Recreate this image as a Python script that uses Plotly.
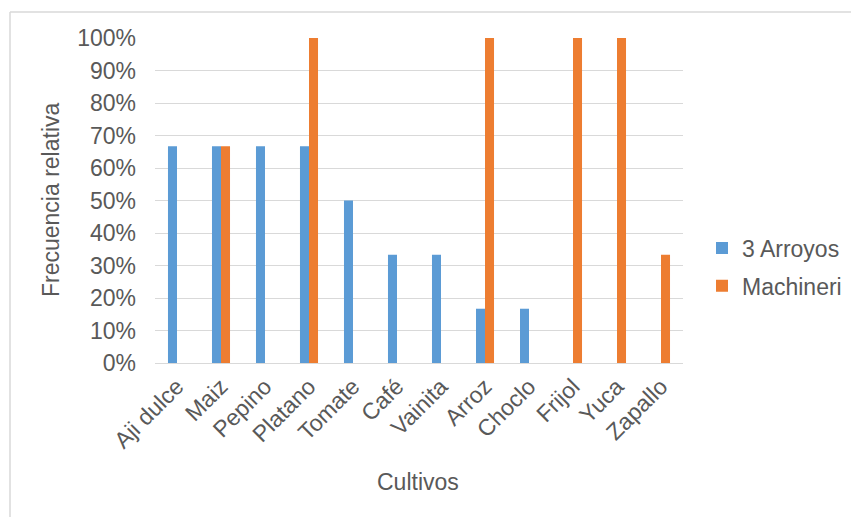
import plotly.graph_objects as go

cultivos = ["Aji dulce", "Maiz", "Pepino", "Platano", "Tomate", "Café", "Vainita",
            "Arroz", "Choclo", "Frijol", "Yuca", "Zapallo"]
tres_arroyos = [0.667, 0.667, 0.667, 0.667, 0.5, 0.333, 0.333, 0.167, 0.167, 0, 0, 0]
machineri = [0, 0.667, 0, 1.0, 0, 0, 0, 1.0, 0, 1.0, 1.0, 0.333]

W, H = 851, 517
L, R, T, B = 155, 168, 38, 154
PW, PH = W - L - R, H - T - B
FS = 23
GRAY = "#595959"


def px_x(x):
    return (x - L) / PW


def px_y(y):
    return (H - B - y) / PH


fig = go.Figure()
fig.add_trace(go.Bar(x=cultivos, y=tres_arroyos, name="3 Arroyos", legendgroup="a",
                     marker=dict(color="#5B9BD5", line=dict(width=0))))
fig.add_trace(go.Bar(x=cultivos, y=machineri, name="Machineri", legendgroup="b",
                     marker=dict(color="#ED7D31", line=dict(width=0))))

font_fam = "Liberation Sans, Arial, sans-serif"
fig.update_layout(
    width=W, height=H,
    margin=dict(l=L, r=R, t=T, b=B, pad=0, autoexpand=False),
    paper_bgcolor="white", plot_bgcolor="white",
    barmode="group", bargap=0.59, bargroupgap=0,
    font=dict(family=font_fam, size=FS, color=GRAY),
    showlegend=True,
    legend=dict(xref="container", yref="container",
                x=702 / W, xanchor="left", y=(H - 267) / H, yanchor="middle",
                font=dict(size=FS, color=GRAY), itemwidth=30,
                tracegroupgap=5, bgcolor="rgba(0,0,0,0)"),
    xaxis=dict(tickangle=-45, showgrid=False, showline=True, linecolor="#D9D9D9",
               linewidth=1, ticks="", tickfont=dict(size=FS, color=GRAY)),
    yaxis=dict(range=[0, 1.0], tickvals=[i / 10 for i in range(11)],
               tickformat=".0%", showgrid=True, gridcolor="#D9D9D9", gridwidth=1,
               zeroline=False, showline=False, ticks="", ticklabelstandoff=18,
               tickfont=dict(size=FS, color=GRAY)),
    annotations=[
        dict(text="Frecuencia relativa", xref="paper", yref="paper",
             x=px_x(51), y=px_y(200),
             textangle=-90, showarrow=False, xanchor="center", yanchor="middle",
             font=dict(size=FS, color=GRAY)),
        dict(text="Cultivos", xref="paper", yref="paper",
             x=px_x(418), y=px_y(482),
             showarrow=False, xanchor="center", yanchor="middle",
             font=dict(size=FS, color=GRAY)),
    ],
    shapes=[
        dict(type="line", xref="paper", yref="paper",
             x0=px_x(10), x1=px_x(W), y0=px_y(12), y1=px_y(12),
             line=dict(color="#D9D9D9", width=1.5)),
        dict(type="line", xref="paper", yref="paper",
             x0=px_x(10), x1=px_x(10), y0=px_y(12), y1=px_y(H),
             line=dict(color="#D9D9D9", width=1.5)),
    ],
)

fig.write_html("out.html")
